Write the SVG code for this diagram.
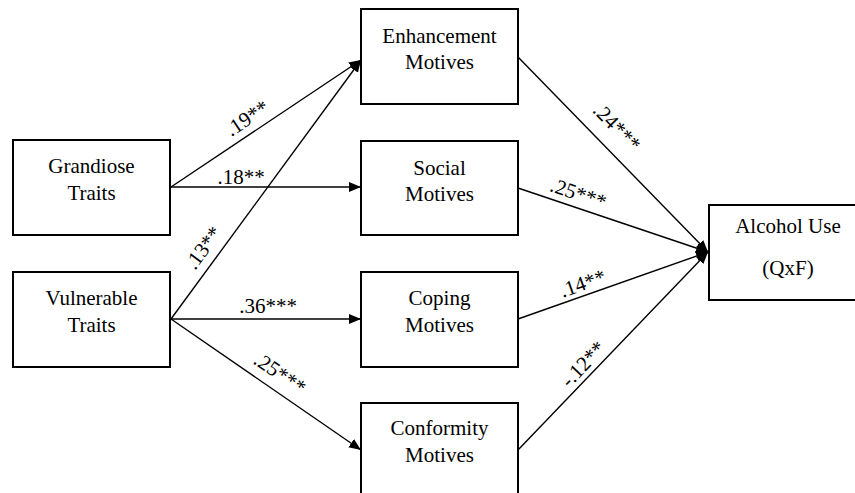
<svg xmlns="http://www.w3.org/2000/svg" width="855" height="493" viewBox="0 0 855 493">
<style>
.box{fill:#fff;stroke:#000;stroke-width:2}
.t{font-size:21px;fill:#000;text-anchor:middle}
.c{stroke:#000;stroke-width:1.4;fill:none;marker-end:url(#ah)}
</style>
<defs>
<marker id="ah" markerUnits="userSpaceOnUse" markerWidth="13" markerHeight="11" refX="12" refY="5" orient="auto">
<path d="M0,0 L12,5 L0,10 z" fill="#000"/>
</marker>
</defs>
<rect width="855" height="493" fill="#fff"/>
<g font-family="Liberation Serif, DejaVu Serif, serif">
<g id="connectors">
<line class="c" x1="171" y1="187" x2="361" y2="60"/>
<line class="c" x1="171" y1="187" x2="361" y2="187"/>
<line class="c" x1="171" y1="319" x2="361" y2="60"/>
<line class="c" x1="171" y1="319" x2="361" y2="319"/>
<line class="c" x1="171" y1="319" x2="361" y2="450"/>
<line class="c" x1="518" y1="57" x2="708" y2="252"/>
<line class="c" x1="518" y1="188" x2="708" y2="252"/>
<line class="c" x1="518" y1="319" x2="708" y2="252"/>
<line class="c" x1="518" y1="450" x2="708" y2="252"/>
<text class="t" transform="translate(251,124) rotate(-33.6)">.19**</text>
<text class="t" x="241" y="184">.18**</text>
<text class="t" transform="translate(209,252) rotate(-53.6)">.13**</text>
<text class="t" x="268" y="313">.36***</text>
<text class="t" transform="translate(276,379) rotate(34.4)">.25***</text>
<text class="t" transform="translate(612,132) rotate(45.6)">.24***</text>
<text class="t" transform="translate(576,200) rotate(18.8)">.25***</text>
<text class="t" transform="translate(585,290) rotate(-19.3)">.14**</text>
<text class="t" transform="translate(588,369) rotate(-46)">-.12**</text>
</g>
<g id="grandiose">
<rect class="box" x="13" y="140" width="157" height="95"/>
<text class="t" x="91.5" y="173">Grandiose</text>
<text class="t" x="91.5" y="200">Traits</text>
</g>
<g id="vulnerable">
<rect class="box" x="13" y="272" width="157" height="95"/>
<text class="t" x="91.5" y="305">Vulnerable</text>
<text class="t" x="91.5" y="332">Traits</text>
</g>
<g id="enhancement">
<rect class="box" x="361" y="9" width="157" height="95"/>
<text class="t" x="439.5" y="43">Enhancement</text>
<text class="t" x="439.5" y="69">Motives</text>
</g>
<g id="social">
<rect class="box" x="361" y="141" width="157" height="94"/>
<text class="t" x="439.5" y="175">Social</text>
<text class="t" x="439.5" y="201">Motives</text>
</g>
<g id="coping">
<rect class="box" x="361" y="272" width="157" height="95"/>
<text class="t" x="439.5" y="305">Coping</text>
<text class="t" x="439.5" y="332">Motives</text>
</g>
<g id="conformity">
<rect class="box" x="361" y="403" width="157" height="100"/>
<text class="t" x="439.5" y="435">Conformity</text>
<text class="t" x="439.5" y="462">Motives</text>
</g>
<g id="alcohol">
<rect class="box" x="709" y="205" width="160" height="95"/>
<text class="t" x="788" y="233">Alcohol Use</text>
<text class="t" x="788" y="275">(QxF)</text>
</g>
</g>
</svg>
